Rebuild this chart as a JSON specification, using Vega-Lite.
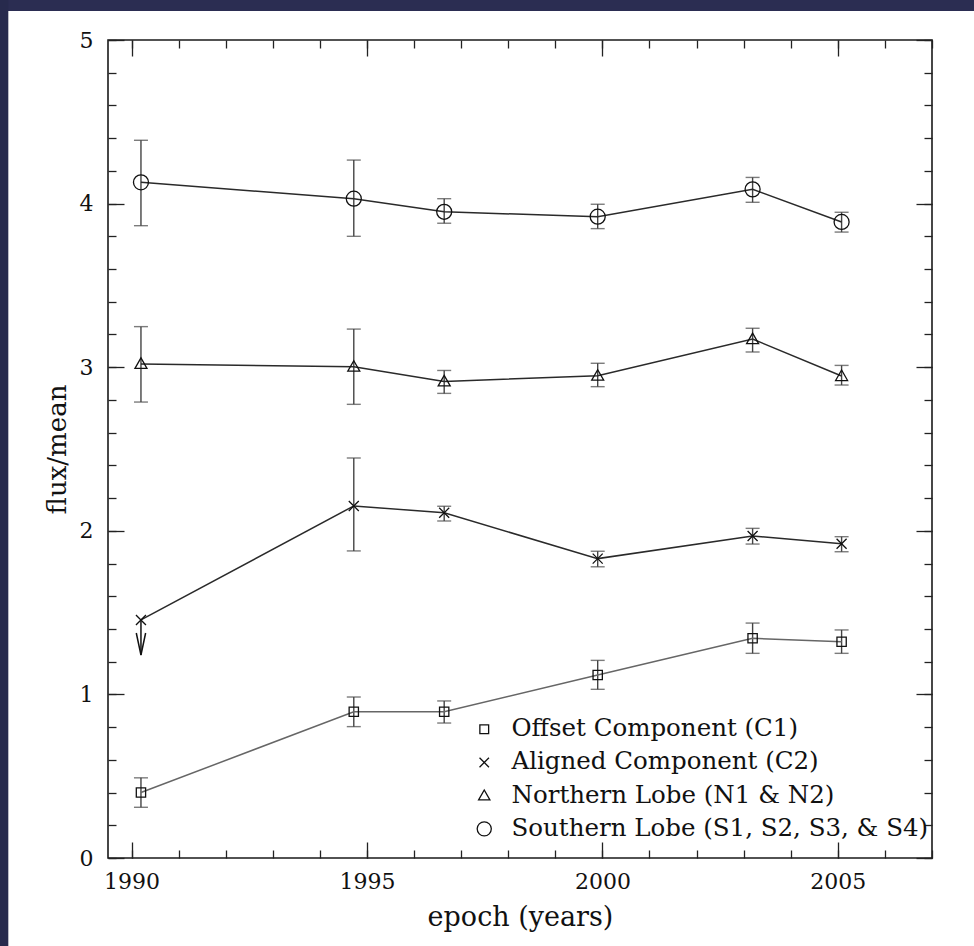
{
  "$schema": "https://vega.github.io/schema/vega-lite/v6.json",
  "autosize": "none",
  "width": 824,
  "height": 818,
  "padding": {"left": 108, "top": 40, "right": 42, "bottom": 88},
  "background": "white",
  "config": {
    "view": {"stroke": "#1a1a1a", "strokeWidth": 1.6},
    "axis": {"domain": false, "grid": false, "tickColor": "#222", "tickWidth": 1.3, "labelFlush": false, "labelOverlap": false, "titleFontWeight": "normal", "labelColor": "#111", "titleColor": "#111"},
    "legend": {"labelFont": "DejaVu Serif", "labelFontSize": 24.5, "labelColor": "#111", "symbolStrokeColor": "#111", "symbolStrokeWidth": 1.3, "symbolSize": 200, "labelOffset": 15, "rowPadding": 8.2, "padding": 0, "labelLimit": 600}
  },
  "datasets": {
    "pts": [
      {"series": "Offset Component (C1)", "year": 1990.2, "flux": 0.40, "lo": 0.31, "hi": 0.49},
      {"series": "Offset Component (C1)", "year": 1994.72, "flux": 0.894, "lo": 0.803, "hi": 0.984},
      {"series": "Offset Component (C1)", "year": 1996.64, "flux": 0.894, "lo": 0.825, "hi": 0.96},
      {"series": "Offset Component (C1)", "year": 1999.9, "flux": 1.119, "lo": 1.031, "hi": 1.208},
      {"series": "Offset Component (C1)", "year": 2003.19, "flux": 1.343, "lo": 1.251, "hi": 1.436},
      {"series": "Offset Component (C1)", "year": 2005.08, "flux": 1.322, "lo": 1.251, "hi": 1.394},
      {"series": "Aligned Component (C2)", "year": 1990.2, "flux": 1.455, "lo": null, "hi": null},
      {"series": "Aligned Component (C2)", "year": 1994.72, "flux": 2.152, "lo": 1.877, "hi": 2.445},
      {"series": "Aligned Component (C2)", "year": 1996.64, "flux": 2.11, "lo": 2.06, "hi": 2.15},
      {"series": "Aligned Component (C2)", "year": 1999.9, "flux": 1.83, "lo": 1.78, "hi": 1.875},
      {"series": "Aligned Component (C2)", "year": 2003.19, "flux": 1.968, "lo": 1.919, "hi": 2.015},
      {"series": "Aligned Component (C2)", "year": 2005.08, "flux": 1.921, "lo": 1.872, "hi": 1.964},
      {"series": "Northern Lobe (N1 & N2)", "year": 1990.2, "flux": 3.02, "lo": 2.787, "hi": 3.248},
      {"series": "Northern Lobe (N1 & N2)", "year": 1994.72, "flux": 3.003, "lo": 2.773, "hi": 3.233},
      {"series": "Northern Lobe (N1 & N2)", "year": 1996.64, "flux": 2.913, "lo": 2.84, "hi": 2.98},
      {"series": "Northern Lobe (N1 & N2)", "year": 1999.9, "flux": 2.948, "lo": 2.881, "hi": 3.024},
      {"series": "Northern Lobe (N1 & N2)", "year": 2003.19, "flux": 3.172, "lo": 3.093, "hi": 3.238},
      {"series": "Northern Lobe (N1 & N2)", "year": 2005.08, "flux": 2.946, "lo": 2.891, "hi": 3.011},
      {"series": "Southern Lobe (S1, S2, S3, & S4)", "year": 1990.2, "flux": 4.13, "lo": 3.865, "hi": 4.387},
      {"series": "Southern Lobe (S1, S2, S3, & S4)", "year": 1994.72, "flux": 4.03, "lo": 3.80, "hi": 4.266},
      {"series": "Southern Lobe (S1, S2, S3, & S4)", "year": 1996.64, "flux": 3.95, "lo": 3.88, "hi": 4.03},
      {"series": "Southern Lobe (S1, S2, S3, & S4)", "year": 1999.9, "flux": 3.92, "lo": 3.847, "hi": 3.996},
      {"series": "Southern Lobe (S1, S2, S3, & S4)", "year": 2003.19, "flux": 4.087, "lo": 4.008, "hi": 4.16},
      {"series": "Southern Lobe (S1, S2, S3, & S4)", "year": 2005.08, "flux": 3.888, "lo": 3.826, "hi": 3.947}
    ],
    "limits": [
      {"series": "Aligned Component (C2)", "year": 1990.2, "flux": 1.455, "limit": 1.241}
    ]
  },
  "layer": [
    {
      "data": {"values": [{}]},
      "mark": {"type": "rect", "color": "#2b2d52", "clip": false},
      "encoding": {
        "x": {"datum": 1975, "type": "quantitative", "scale": {"domain": [1989.5, 2007], "nice": false, "zero": false},
          "axis": {"orient": "bottom", "values": [1990, 1995, 2000, 2005], "format": "d", "tickSize": -16, "labelPadding": 29, "labelFont": "DejaVu Serif", "labelFontSize": 22, "title": "epoch (years)", "titleFont": "DejaVu Serif", "titleFontSize": 27, "titleY": 67, "titleBaseline": "alphabetic"}},
        "x2": {"datum": 2020},
        "y": {"datum": 5.177, "type": "quantitative", "scale": {"domain": [0, 5], "nice": false, "zero": false},
          "axis": {"orient": "left", "values": [0, 1, 2, 3, 4, 5], "format": "d", "tickSize": -16, "labelPadding": 31, "labelFont": "DejaVu Serif", "labelFontSize": 22, "labelBaseline": "middle", "title": "flux/mean", "titleFont": "DejaVu Serif", "titleFontSize": 26, "titleAngle": -90, "titleX": -51, "titleY": 409, "titleAlign": "center", "titleBaseline": "middle"}},
        "y2": {"datum": 6}
      }
    },
    {
      "data": {"values": [{}]},
      "mark": {"type": "rect", "color": "#272a4d", "clip": false},
      "encoding": {
        "x": {"datum": 1975, "type": "quantitative", "axis": null},
        "x2": {"datum": 1987.383},
        "y": {"datum": 6, "type": "quantitative", "axis": null},
        "y2": {"datum": -2}
      }
    },
    {
      "data": {"name": "pts"},
      "transform": [{"filter": "isValid(datum.lo)"}],
      "mark": {"type": "rule", "color": "#444", "strokeWidth": 1.4},
      "encoding": {
        "x": {"field": "year", "type": "quantitative",
          "axis": {"orient": "bottom", "values": [1990, 1991, 1992, 1993, 1994, 1995, 1996, 1997, 1998, 1999, 2000, 2001, 2002, 2003, 2004, 2005, 2006, 2007], "tickSize": -8, "labels": false, "title": null}},
        "y": {"field": "lo", "type": "quantitative",
          "axis": {"orient": "left", "values": [0, 0.2, 0.4, 0.6, 0.8, 1, 1.2, 1.4, 1.6, 1.8, 2, 2.2, 2.4, 2.6, 2.8, 3, 3.2, 3.4, 3.6, 3.8, 4, 4.2, 4.4, 4.6, 4.8, 5], "tickSize": -8, "labels": false, "title": null}},
        "y2": {"field": "hi"}
      }
    },
    {
      "data": {"name": "pts"},
      "transform": [{"filter": "isValid(datum.lo)"}],
      "mark": {"type": "tick", "orient": "horizontal", "color": "#444", "size": 14, "thickness": 1.4},
      "encoding": {
        "x": {"field": "year", "type": "quantitative",
          "axis": {"orient": "top", "values": [1990, 1995, 2000, 2005], "tickSize": -16, "labels": false, "title": null}},
        "y": {"field": "lo", "type": "quantitative",
          "axis": {"orient": "right", "values": [0, 1, 2, 3, 4, 5], "tickSize": -16, "labels": false, "title": null}}
      }
    },
    {
      "data": {"name": "pts"},
      "transform": [{"filter": "isValid(datum.hi)"}],
      "mark": {"type": "tick", "orient": "horizontal", "color": "#444", "size": 14, "thickness": 1.4},
      "encoding": {
        "x": {"field": "year", "type": "quantitative",
          "axis": {"orient": "top", "values": [1990, 1991, 1992, 1993, 1994, 1995, 1996, 1997, 1998, 1999, 2000, 2001, 2002, 2003, 2004, 2005, 2006, 2007], "tickSize": -8, "labels": false, "title": null}},
        "y": {"field": "hi", "type": "quantitative",
          "axis": {"orient": "right", "values": [0, 0.2, 0.4, 0.6, 0.8, 1, 1.2, 1.4, 1.6, 1.8, 2, 2.2, 2.4, 2.6, 2.8, 3, 3.2, 3.4, 3.6, 3.8, 4, 4.2, 4.4, 4.6, 4.8, 5], "tickSize": -8, "labels": false, "title": null}}
      }
    },
    {
      "data": {"name": "pts"},
      "transform": [{"filter": "datum.series === 'Offset Component (C1)'"}],
      "mark": {"type": "line", "strokeWidth": 1.5, "color": "#666666"},
      "encoding": {
        "x": {"field": "year", "type": "quantitative", "axis": null},
        "y": {"field": "flux", "type": "quantitative", "axis": null}
      }
    },
    {
      "data": {"name": "pts"},
      "transform": [{"filter": "datum.series !== 'Offset Component (C1)'"}],
      "mark": {"type": "line", "strokeWidth": 1.5, "color": "#2a2a2a"},
      "encoding": {
        "x": {"field": "year", "type": "quantitative", "axis": null},
        "y": {"field": "flux", "type": "quantitative", "axis": null},
        "detail": {"field": "series", "type": "nominal"}
      }
    },
    {
      "data": {"name": "pts"},
      "mark": {"type": "point", "filled": false, "color": "#111", "strokeWidth": 1.3, "size": 225, "opacity": 1},
      "encoding": {
        "x": {"field": "year", "type": "quantitative", "axis": null},
        "y": {"field": "flux", "type": "quantitative", "axis": null},
        "shape": {"field": "series", "type": "nominal",
          "scale": {"domain": ["Offset Component (C1)", "Aligned Component (C2)", "Northern Lobe (N1 & N2)", "Southern Lobe (S1, S2, S3, & S4)"],
            "range": ["M-0.62,-0.62L0.62,-0.62L0.62,0.62L-0.62,0.62Z", "M-0.667,-0.667L0.667,0.667M-0.667,0.667L0.667,-0.667", "M0,-0.8L0.8,0.6L-0.8,0.6Z", "circle"]},
          "legend": {"title": null, "orient": "none", "legendX": 364, "legendY": 677}}
      }
    },
    {
      "data": {"name": "limits"},
      "mark": {"type": "rule", "color": "#111", "strokeWidth": 1.5},
      "encoding": {
        "x": {"field": "year", "type": "quantitative", "axis": null},
        "y": {"field": "flux", "type": "quantitative", "axis": null},
        "y2": {"field": "limit"}
      }
    },
    {
      "data": {"name": "limits"},
      "mark": {"type": "point", "shape": "M-0.85,-4L0,0L0.85,-4", "size": 121, "filled": false, "color": "#111", "strokeWidth": 1.5, "opacity": 1},
      "encoding": {
        "x": {"field": "year", "type": "quantitative", "axis": null},
        "y": {"field": "limit", "type": "quantitative", "axis": null}
      }
    }
  ],
  "resolve": {"scale": {"x": "shared", "y": "shared"}, "axis": {"x": "independent", "y": "independent"}}
}
